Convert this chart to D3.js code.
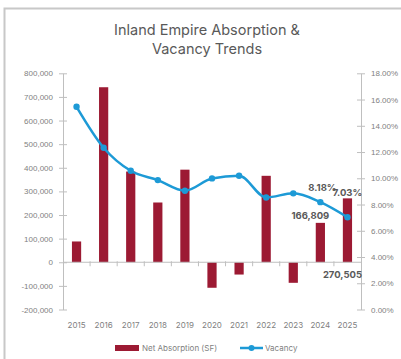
<!DOCTYPE html>
<html>
<head>
<meta charset="utf-8">
<script src="https://cdn.jsdelivr.net/npm/d3@7"></script>
<style>
  html, body { margin: 0; padding: 0; background: #fff; }
  svg { display: block; font-family: Inter, "Noto Sans", sans-serif; }
</style>
</head>
<body>
<svg id="chart" width="401" height="359"></svg>
<script>
// Inland Empire net absorption (SF) and vacancy rate by year
const years = ["2015","2016","2017","2018","2019","2020","2021","2022","2023","2024","2025"];
const netAbsorption = [88000, 741000, 384000, 253000, 392000, -108000, -52000, 366000, -87000, 166809, 270505];
const vacancy = [15.45, 12.33, 10.57, 9.86, 9.05, 9.99, 10.19, 8.54, 8.85, 8.18, 7.03];
const leftTicks = [-200000, -100000, 0, 100000, 200000, 300000, 400000, 500000, 600000, 700000, 800000];
const rightTicks = [0, 2, 4, 6, 8, 10, 12, 14, 16, 18];
const titleLines = ["Inland Empire Absorption &", "Vacancy Trends"];
const seriesNames = ["Net Absorption (SF)", "Vacancy"];

const barColor = "#9c1a33";
const lineColor = "#1d9ad6";
const axisColor = "#bfbfbf";
const textColor = "#7f7f7f";

const svg = d3.select("#chart");

// frame
svg.append("rect")
  .attr("x", 4.5).attr("y", 8.5)
  .attr("width", 420).attr("height", 380)
  .attr("fill", "#fff")
  .attr("stroke", "#c8c8c8").attr("stroke-width", 2);

// title
svg.append("g").selectAll("text")
  .data(titleLines).join("text")
  .attr("x", 207)
  .attr("y", (d, i) => 35 + i * 18.5)
  .attr("text-anchor", "middle")
  .attr("font-size", 14.5)
  .attr("fill", "#595959")
  .text(d => d);

const plot = { left: 63, right: 361, top: 73.3, bottom: 309.5 };

const x = d3.scaleBand().domain(years).range([plot.left, plot.right]).paddingInner(0.66).paddingOuter(0.33);
const xOuter = d3.scaleBand().domain(years).range([plot.left, plot.right]);
const yL = d3.scaleLinear().domain([-200000, 800000]).range([plot.bottom, plot.top]);
const yR = d3.scaleLinear().domain([0, 18]).range([plot.bottom, plot.top]);

// left axis
const leftAxis = d3.axisLeft(yL).tickValues(leftTicks)
  .tickFormat(d => d3.format(",")(d).replace("−", "-"))
  .tickSizeInner(4).tickSizeOuter(0).tickPadding(6);
const gL = svg.append("g").attr("transform", `translate(${plot.left},0)`).call(leftAxis);
gL.selectAll(".tick line").attr("x1", 4).attr("x2", -4);

// right axis
const rightAxis = d3.axisRight(yR).tickValues(rightTicks)
  .tickFormat(d => d.toFixed(2) + "%")
  .tickSizeInner(4).tickSizeOuter(0).tickPadding(6);
const gR = svg.append("g").attr("transform", `translate(${plot.right},0)`).call(rightAxis);
gR.selectAll(".tick line").attr("x1", -4).attr("x2", 4);

[gL, gR].forEach(g => {
  g.select(".domain").attr("stroke", axisColor);
  g.selectAll(".tick line").attr("stroke", axisColor);
  g.selectAll(".tick text").attr("fill", textColor).attr("font-size", 8);
});
gL.selectAll(".tick text").attr("x", -10);

// bars
svg.append("g").selectAll("rect")
  .data(years).join("rect")
  .attr("x", d => x(d))
  .attr("width", x.bandwidth())
  .attr("y", (d, i) => yL(Math.max(0, netAbsorption[i])))
  .attr("height", (d, i) => Math.abs(yL(netAbsorption[i]) - yL(0)))
  .attr("fill", barColor);

// category axis at zero
const gX = svg.append("g").attr("transform", `translate(0,${yL(0)})`);
gX.append("line").attr("x1", plot.left).attr("x2", plot.right)
  .attr("stroke", axisColor);
gX.selectAll("line.sep")
  .data(years.slice(1)).join("line").attr("class", "sep")
  .attr("x1", d => xOuter(d)).attr("x2", d => xOuter(d))
  .attr("y1", -1).attr("y2", 4)
  .attr("stroke", axisColor);

// year labels
svg.append("g").selectAll("text")
  .data(years).join("text")
  .attr("x", d => x(d) + x.bandwidth() / 2)
  .attr("y", 328)
  .attr("text-anchor", "middle")
  .attr("font-size", 8)
  .attr("fill", textColor)
  .text(d => d);

// vacancy line
const cx = (d, i) => x(years[i]) + x.bandwidth() / 2;
const line = d3.line().x(cx).y(d => yR(d)).curve(d3.curveMonotoneX);
svg.append("path")
  .datum(vacancy)
  .attr("d", line)
  .attr("fill", "none")
  .attr("stroke", lineColor)
  .attr("stroke-width", 2.5);
svg.append("g").selectAll("circle")
  .data(vacancy).join("circle")
  .attr("cx", cx)
  .attr("cy", d => yR(d))
  .attr("r", 3.2)
  .attr("fill", lineColor);

// data labels for the latest two years
const lblStyle = sel => sel.attr("text-anchor", "middle").attr("font-size", 9.5)
  .attr("font-weight", "bold").attr("fill", "#595959");
const i24 = 9, i25 = 10;
svg.append("text").call(lblStyle)
  .attr("x", cx(null, i24) + 2).attr("y", yR(vacancy[i24]) - 11)
  .text(vacancy[i24].toFixed(2) + "%");
svg.append("text").call(lblStyle)
  .attr("x", cx(null, i25)).attr("y", yR(vacancy[i25]) - 21)
  .text(vacancy[i25].toFixed(2) + "%");
svg.append("text").call(lblStyle)
  .attr("x", cx(null, i24) - 10).attr("y", yL(netAbsorption[i24]) - 4)
  .text(d3.format(",")(netAbsorption[i24]));
svg.append("text").call(lblStyle)
  .attr("x", cx(null, i25) - 5).attr("y", yL(0) + 16)
  .text(d3.format(",")(netAbsorption[i25]));

// legend
const lg = svg.append("g").attr("transform", "translate(0,348)");
lg.append("rect").attr("x", 115).attr("y", -3).attr("width", 24).attr("height", 6).attr("fill", barColor);
lg.append("text").attr("x", 142).attr("y", 3).attr("font-size", 8).attr("fill", textColor).text(seriesNames[0]);
lg.append("line").attr("x1", 240).attr("x2", 263).attr("y1", 0).attr("y2", 0)
  .attr("stroke", lineColor).attr("stroke-width", 2.5);
lg.append("circle").attr("cx", 251.5).attr("cy", 0).attr("r", 3).attr("fill", lineColor);
lg.append("text").attr("x", 265).attr("y", 3).attr("font-size", 8).attr("fill", textColor).text(seriesNames[1]);
</script>
</body>
</html>
